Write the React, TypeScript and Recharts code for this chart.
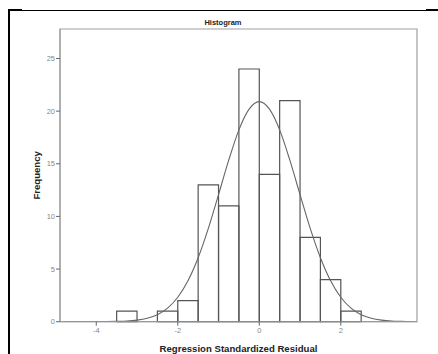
import React from 'react';
import { ComposedChart, Line, XAxis, YAxis, ReferenceArea } from 'recharts';

// Histogram bins (lower edge, upper edge, count)
const binLows = [-3.5, -3.0, -2.5, -2.0, -1.5, -1.0, -0.5, 0.0, 0.5, 1.0, 1.5, 2.0];
const binHighs = [-3.0, -2.5, -2.0, -1.5, -1.0, -0.5, 0.0, 0.5, 1.0, 1.5, 2.0, 2.5];
const binCounts = [1, 0, 1, 2, 13, 11, 24, 14, 21, 8, 4, 1];

// Normal curve points
const curveX = [-4.75, -4.5, -4.25, -4.0, -3.75, -3.5, -3.25, -3.0, -2.75, -2.5, -2.25, -2.0, -1.75, -1.5, -1.25, -1.0, -0.75, -0.5, -0.25, 0.0, 0.25, 0.5, 0.75, 1.0, 1.25, 1.5, 1.75, 2.0, 2.25, 2.5, 2.75, 3.0, 3.25, 3.5, 3.75];
const curveY = [0, 0, 0, 0, 0.01, 0.03, 0.06, 0.15, 0.33, 0.67, 1.29, 2.32, 3.88, 6.07, 8.86, 12.07, 15.34, 18.22, 20.19, 20.9, 20.19, 18.22, 15.34, 12.07, 8.86, 6.07, 3.88, 2.32, 1.29, 0.67, 0.33, 0.15, 0.06, 0.03, 0.01];

const xTicks = [-4, -2, 0, 2];
const yTicks = [0, 5, 10, 15, 20, 25];
const xDomain = [-4.89, 3.87];
const yDomain = [0, 27.8];

const curveData = curveX.map((x, i) => ({ x, y: curveY[i] }));

const FONT = '"Liberation Sans", Arial, sans-serif';

export default function App() {
  return (
    <div style={{ position: 'absolute', left: 0, top: 0, width: 438, height: 354, background: '#fff', overflow: 'hidden' }}>
      <div style={{ position: 'absolute', left: 8, top: 10, width: 430, height: 0, borderTop: '1px solid #000' }} />
      <div style={{ position: 'absolute', left: 8, top: 9, width: 14, height: 2, background: '#000' }} />
      <div style={{ position: 'absolute', left: 426, top: 9, width: 12, height: 2, background: '#000' }} />
      <div style={{ position: 'absolute', left: 8, top: 9, width: 2, height: 345, background: '#000' }} />
      <div style={{ position: 'absolute', left: 0, top: 17, width: 446, textAlign: 'center', fontFamily: FONT, fontWeight: 'bold', fontSize: 7.5, color: '#222', lineHeight: '12px' }}>
        Histogram
      </div>
      <div style={{ position: 'absolute', left: 0, top: 0 }}>
        <ComposedChart
          width={438}
          height={354}
          data={curveData}
          margin={{ top: 29, right: 21, bottom: 0, left: 0 }}
        >
          <XAxis
            dataKey="x"
            type="number"
            domain={xDomain}
            ticks={xTicks}
            allowDataOverflow
            height={32.3}
            tickSize={4}
            tickMargin={2}
            stroke="#999"
            tickLine={{ stroke: '#666' }}
            tick={{ fill: '#888', fontSize: 7.5, fontFamily: FONT }}
            label={{ value: 'Regression Standardized Residual', position: 'insideBottom', offset: 2, fill: '#222', fontSize: 9.6, fontWeight: 'bold', fontFamily: FONT }}
          />
          <YAxis
            type="number"
            domain={yDomain}
            ticks={yTicks}
            allowDataOverflow
            width={60}
            tickSize={4}
            tickMargin={1}
            stroke="#999"
            tickLine={{ stroke: '#666' }}
            tick={{ fill: '#888', fontSize: 7.5, fontFamily: FONT }}
            label={{ value: 'Frequency', angle: -90, position: 'insideLeft', offset: 37, fill: '#222', fontSize: 9.6, fontWeight: 'bold', fontFamily: FONT, style: { textAnchor: 'middle' } }}
          />
          <ReferenceArea
            x1={xDomain[0]}
            x2={xDomain[1]}
            y1={yDomain[0]}
            y2={yDomain[1]}
            fill="none"
            stroke="#a0a0a0"
            strokeWidth={1.2}
            ifOverflow="visible"
          />
          {binLows.map((lo, i) =>
            binCounts[i] > 0 ? (
              <ReferenceArea
                key={i}
                x1={lo}
                x2={binHighs[i]}
                y1={0}
                y2={binCounts[i]}
                fill="none"
                stroke="#555"
                strokeWidth={1.2}
                ifOverflow="visible"
              />
            ) : null
          )}
          <Line
            dataKey="y"
            type="monotone"
            dot={false}
            stroke="#666"
            strokeWidth={1.1}
            isAnimationActive={false}
          />
        </ComposedChart>
      </div>
    </div>
  );
}
